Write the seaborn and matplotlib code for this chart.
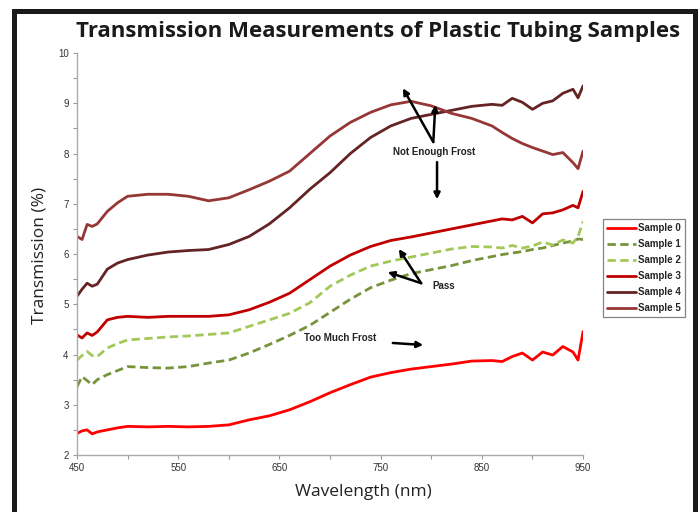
import matplotlib
matplotlib.use("Agg")
import matplotlib.pyplot as plt
from matplotlib.patches import Rectangle
from matplotlib.ticker import MultipleLocator
import seaborn as sns
import pandas as pd

# wavelength grid (nm) shared by all samples
wavelength = [450, 455, 460, 465, 470, 480, 490, 500, 520, 540, 560, 580, 600, 620, 640, 660, 680, 700,
              720, 740, 760, 780, 800, 820, 840, 860, 870, 880, 890, 900, 910, 920, 930, 940, 945, 950]

sample0 = [2.43, 2.48, 2.50, 2.42, 2.46, 2.50, 2.54, 2.57, 2.56, 2.57, 2.56, 2.57, 2.60, 2.70, 2.78, 2.90, 3.06, 3.24,
           3.40, 3.55, 3.64, 3.71, 3.76, 3.81, 3.87, 3.88, 3.86, 3.96, 4.03, 3.89, 4.05, 3.99, 4.16, 4.05, 3.89, 4.46]
sample1 = [3.36, 3.56, 3.48, 3.40, 3.50, 3.60, 3.68, 3.76, 3.74, 3.73, 3.76, 3.83, 3.89, 4.03, 4.20, 4.38, 4.58, 4.84,
           5.10, 5.33, 5.48, 5.61, 5.69, 5.77, 5.87, 5.95, 5.99, 6.02, 6.05, 6.09, 6.12, 6.17, 6.22, 6.26, 6.30, 6.29]
sample2 = [3.89, 3.98, 4.06, 3.98, 3.96, 4.13, 4.22, 4.29, 4.32, 4.35, 4.37, 4.40, 4.43, 4.56, 4.69, 4.82, 5.03, 5.36,
           5.58, 5.76, 5.86, 5.94, 6.02, 6.10, 6.15, 6.14, 6.12, 6.17, 6.12, 6.16, 6.24, 6.18, 6.28, 6.22, 6.35, 6.65]
sample3 = [4.39, 4.33, 4.43, 4.38, 4.45, 4.69, 4.74, 4.76, 4.74, 4.76, 4.76, 4.76, 4.79, 4.89, 5.04, 5.22, 5.49, 5.76,
           5.98, 6.15, 6.27, 6.34, 6.42, 6.50, 6.58, 6.66, 6.70, 6.68, 6.75, 6.62, 6.80, 6.82, 6.88, 6.97, 6.92, 7.25]
sample4 = [5.16, 5.30, 5.42, 5.36, 5.40, 5.70, 5.82, 5.89, 5.98, 6.04, 6.07, 6.09, 6.19, 6.35, 6.60, 6.92, 7.29, 7.62,
           8.00, 8.32, 8.55, 8.70, 8.78, 8.86, 8.94, 8.98, 8.96, 9.10, 9.02, 8.88, 9.00, 9.05, 9.20, 9.28, 9.11, 9.35]
sample5 = [6.35, 6.29, 6.59, 6.55, 6.60, 6.85, 7.02, 7.15, 7.19, 7.19, 7.15, 7.06, 7.12, 7.28, 7.45, 7.65, 8.00, 8.35,
           8.62, 8.82, 8.97, 9.04, 8.95, 8.80, 8.70, 8.55, 8.42, 8.30, 8.20, 8.12, 8.05, 7.98, 8.02, 7.82, 7.70, 8.05]

names = ["Sample 0", "Sample 1", "Sample 2", "Sample 3", "Sample 4", "Sample 5"]
series = [sample0, sample1, sample2, sample3, sample4, sample5]
colors = ["#FF0000", "#77933C", "#A3C85A", "#C00000", "#632423", "#953735"]
xtick_labels = [450, 550, 650, 750, 850, 950]

frames = []
for name, vals in zip(names, series):
    frames.append(pd.DataFrame({"wavelength": wavelength, "transmission": vals, "sample": name}))
df = pd.concat(frames, ignore_index=True)

sns.set_style("white")
plt.rcParams['font.family'] = ['Liberation Sans', 'DejaVu Sans']

fig = plt.figure(figsize=(7, 5.12), dpi=100)
ax = fig.add_axes([0.110, 0.1113, 0.723, 0.785])

dash_map = {n: "" for n in names}
dash_map["Sample 1"] = (3, 1.6)
dash_map["Sample 2"] = (3, 1.6)

sns.lineplot(data=df, x="wavelength", y="transmission", hue="sample", style="sample",
             palette=dict(zip(names, colors)), dashes=dash_map, estimator=None,
             linewidth=2.0, ax=ax)

ax.set_xlim(450, 950)
ax.set_ylim(2, 10)
ax.set_xticks(xtick_labels)
ax.xaxis.set_minor_locator(MultipleLocator(50))
ax.yaxis.set_major_locator(MultipleLocator(1))
ax.yaxis.set_minor_locator(MultipleLocator(0.5))
ax.tick_params(which="both", direction="out", length=3, width=0.8, color="#999999",
               labelsize=7, labelcolor="#333333", pad=3, bottom=True, left=True)
ax.set_xlabel("")
ax.set_ylabel("")
sns.despine(ax=ax)
for s in ["left", "bottom"]:
    ax.spines[s].set_color("#AAAAAA")
    ax.spines[s].set_linewidth(1.0)

# annotations
akw = dict(arrowstyle="-|>", lw=1.8, color="black", mutation_scale=9, shrinkA=0, shrinkB=0)
tkw = dict(fontsize=7, fontweight="bold", color="#222222", ha="center", va="center")
ax.text(803, 8.03, "Not Enough Frost", **tkw)
ax.annotate("", xy=(772, 9.30), xytext=(802, 8.23), arrowprops=akw)
ax.annotate("", xy=(804, 8.97), xytext=(802, 8.23), arrowprops=akw)
ax.annotate("", xy=(805.7, 7.09), xytext=(805.7, 7.83), arrowprops=akw)
ax.text(812, 5.36, "Pass", **tkw)
ax.annotate("", xy=(768, 6.10), xytext=(790, 5.42), arrowprops=akw)
ax.annotate("", xy=(757, 5.64), xytext=(790, 5.42), arrowprops=akw)
ax.text(710, 4.33, "Too Much Frost", **tkw)
ax.annotate("", xy=(792, 4.19), xytext=(762, 4.23), arrowprops=akw)

sns.move_legend(ax, "upper left", bbox_to_anchor=(1.04, 0.587), title=None, frameon=True,
                fancybox=False, edgecolor="#666666", prop={"size": 7, "weight": "bold"},
                handlelength=3.0, handletextpad=0.2, labelspacing=0.62, borderpad=0.4,
                borderaxespad=0)
ax.get_legend().get_frame().set_linewidth(0.9)

fig.text(0.54, 0.9375, "Transmission Measurements of Plastic Tubing Samples",
         fontsize=16, fontweight="bold", family=["Open Sans", "DejaVu Sans"],
         ha="center", va="center", color="#1a1a1a")
fig.text(0.057, 0.502, "Transmission (%)", rotation=90, fontsize=12.5,
         family=["Open Sans", "DejaVu Sans"], ha="center", va="center", color="#222222")
fig.text(0.519, 0.039, "Wavelength (nm)", fontsize=12.5,
         family=["Open Sans", "DejaVu Sans"], ha="center", va="center", color="#222222")

# black page frame
frame = Rectangle((14.5 / 700, -0.1), 680 / 700, (512 - 10.5) / 512 + 0.1,
                  transform=fig.transFigure, fill=False, lw=3.6, edgecolor="#1a1a1a", clip_on=False)
fig.add_artist(frame)

fig.savefig("out.png", dpi=100)
